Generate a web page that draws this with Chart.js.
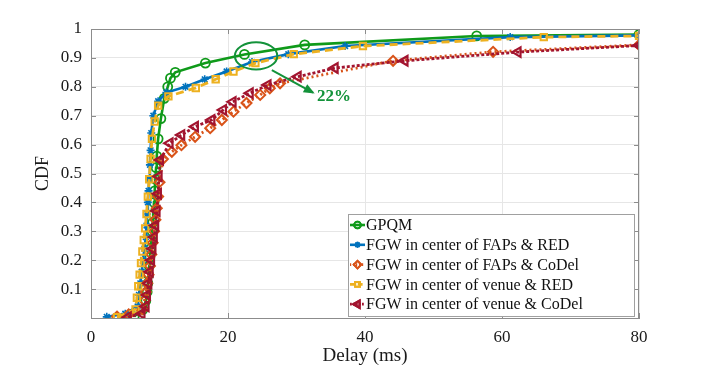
<!DOCTYPE html>
<html><head><meta charset="utf-8">
<script src="https://cdn.jsdelivr.net/npm/chart.js@4/dist/chart.umd.min.js"></script>
<style>html,body{margin:0;padding:0;background:#fff}</style>
</head><body>
<canvas id="c" width="706" height="370"></canvas>
<script>
// ---- data ----
const seriesNames = [
  'GPQM',
  'FGW in center of FAPs & RED',
  'FGW in center of FAPs & CoDel',
  'FGW in center of venue & RED',
  'FGW in center of venue & CoDel'
];
const xTicks = [0, 20, 40, 60, 80];
const yTicks = [0.1, 0.2, 0.3, 0.4, 0.5, 0.6, 0.7, 0.8, 0.9, 1];

const gpqmX = [6.3, 7.6, 8.0, 8.2, 8.3, 8.4, 8.5, 8.6, 8.7, 8.8, 8.9, 9.0, 9.1, 9.2, 9.3, 9.4, 9.5, 9.6, 9.8, 10.2, 10.7, 11.2, 11.6, 12.3, 16.7, 22.4, 31.2, 56.3, 80];
const gpqmY = [0.005, 0.03, 0.06, 0.09, 0.12, 0.15, 0.18, 0.21, 0.24, 0.27, 0.30, 0.33, 0.36, 0.40, 0.44, 0.48, 0.52, 0.56, 0.62, 0.69, 0.76, 0.80, 0.83, 0.85, 0.882, 0.912, 0.945, 0.976, 0.981];

const fapsRedX = [2.3, 5.0, 6.8, 7.0, 7.2, 7.4, 7.6, 7.8, 8.0, 8.1, 8.2, 8.3, 8.4, 8.5, 8.6, 8.7, 8.8, 9.1, 9.8, 11.0, 13.8, 16.6, 19.8, 23.5, 28.8, 37.1, 61.2, 80];
const fapsRedY = [0.004, 0.015, 0.04, 0.08, 0.12, 0.16, 0.20, 0.24, 0.28, 0.32, 0.36, 0.40, 0.44, 0.48, 0.53, 0.58, 0.64, 0.70, 0.75, 0.78, 0.80, 0.826, 0.853, 0.886, 0.913, 0.941, 0.972, 0.978];

const fapsCodelX = [3.8, 5.5, 7.5, 7.8, 8.0, 8.2, 8.4, 8.6, 8.8, 9.0, 9.2, 9.4, 9.6, 9.8, 10.0, 10.5, 11.8, 13.2, 15.2, 17.4, 19.1, 20.8, 22.7, 24.7, 26.1, 27.6, 44.1, 58.7, 80];
const fapsCodelY = [0.005, 0.012, 0.03, 0.06, 0.09, 0.12, 0.15, 0.18, 0.22, 0.26, 0.30, 0.34, 0.38, 0.42, 0.47, 0.55, 0.575, 0.598, 0.627, 0.657, 0.685, 0.714, 0.744, 0.772, 0.795, 0.812, 0.89, 0.921, 0.945];

const venueRedX = [3.8, 6.5, 6.7, 6.9, 7.1, 7.3, 7.5, 7.7, 7.9, 8.1, 8.3, 8.5, 8.7, 8.9, 9.3, 9.8, 11.3, 15.3, 18.2, 20.8, 24.0, 29.6, 39.7, 66.1, 80];
const venueRedY = [0.003, 0.03, 0.07, 0.11, 0.15, 0.19, 0.23, 0.27, 0.31, 0.36, 0.42, 0.48, 0.55, 0.62, 0.68, 0.735, 0.767, 0.796, 0.826, 0.853, 0.882, 0.913, 0.941, 0.972, 0.976];

const venueCodelX = [5.4, 7.4, 8.0, 8.2, 8.4, 8.6, 8.8, 9.0, 9.2, 9.4, 9.6, 9.8, 9.9, 10.1, 11.5, 13.2, 15.2, 17.6, 19.3, 20.7, 23.2, 25.8, 30.2, 35.6, 45.8, 62.3, 80];
const venueCodelY = [0.003, 0.015, 0.04, 0.08, 0.12, 0.16, 0.20, 0.24, 0.28, 0.32, 0.37, 0.43, 0.49, 0.547, 0.605, 0.633, 0.662, 0.685, 0.72, 0.748, 0.778, 0.806, 0.835, 0.865, 0.89, 0.92, 0.943];

// annotation (data units): ellipse around x≈24, y≈0.907 and arrow to "22%"
const noteText = '22%';
const ellipseCenter = [24.1, 0.907];
const ellipseRadius = [3.1, 0.047];
const arrowFrom = [26.4, 0.858];
const arrowTo = [32.4, 0.78];
const notePos = [33.0, 0.765];

// ---- styles ----
const FONT = '"Liberation Serif", "DejaVu Serif", serif';
const colors = ['#0f9a1a', '#0072BD', '#D95319', '#EDB120', '#A2142F'];
const styles = [
  {pointStyle: 'circle', radius: 4.5, dash: [], bw: 1.8, lw: 2.6},
  {pointStyle: 'star', radius: 4, dash: [], bw: 1.6, lw: 2.6},
  {pointStyle: 'rectRot', radius: 5, dash: [2, 3], bw: 2, lw: 2.8},
  {pointStyle: 'rect', radius: 4.5, dash: [8, 5], bw: 2, lw: 2.8},
  {pointStyle: 'triangle', radius: 5.5, dash: [3, 2], bw: 2.2, lw: 2.8, rot: -90}
];
const xsAll = [gpqmX, fapsRedX, fapsCodelX, venueRedX, venueCodelX];
const ysAll = [gpqmY, fapsRedY, fapsCodelY, venueRedY, venueCodelY];

const datasets = seriesNames.map((name, i) => ({
  label: name,
  data: xsAll[i].map((x, k) => ({x: x, y: ysAll[i][k]})),
  borderColor: colors[i],
  backgroundColor: 'rgba(0,0,0,0)',
  pointBackgroundColor: 'rgba(0,0,0,0)',
  pointBorderColor: colors[i],
  pointStyle: styles[i].pointStyle,
  pointRadius: styles[i].radius,
  pointBorderWidth: styles[i].bw,
  pointRotation: styles[i].rot || 0,
  borderWidth: styles[i].lw,
  borderDash: styles[i].dash,
  tension: 0,
  order: 4 - i
}));

function drawMarker(ctx, style, x, y, color) {
  ctx.save();
  ctx.strokeStyle = color; ctx.fillStyle = 'rgba(0,0,0,0)';
  ctx.lineWidth = style.bw;
  Chart.helpers.drawPoint(ctx, {pointStyle: style.pointStyle, rotation: style.rot || 0, radius: style.radius, borderWidth: style.bw}, x, y);
  ctx.stroke();
  ctx.restore();
}

const extras = {
  id: 'extras',
  afterDraw(chart) {
    const ctx = chart.ctx;
    const xs = chart.scales.x, ys = chart.scales.y;
    const a = chart.chartArea;
    ctx.save();
    // top & right box lines + inward ticks
    ctx.strokeStyle = '#8c8c8c'; ctx.lineWidth = 1;
    ctx.beginPath();
    ctx.moveTo(a.left, a.top + 0.5); ctx.lineTo(a.right, a.top + 0.5);
    ctx.moveTo(a.right - 0.5, a.top); ctx.lineTo(a.right - 0.5, a.bottom);
    xTicks.forEach(v => {
      const px = Math.round(xs.getPixelForValue(v)) + 0.5;
      ctx.moveTo(px, a.bottom); ctx.lineTo(px, a.bottom - 5);
      ctx.moveTo(px, a.top); ctx.lineTo(px, a.top + 5);
    });
    yTicks.forEach(v => {
      const py = Math.round(ys.getPixelForValue(v)) + 0.5;
      ctx.moveTo(a.left, py); ctx.lineTo(a.left + 5, py);
      ctx.moveTo(a.right, py); ctx.lineTo(a.right - 5, py);
    });
    ctx.stroke();

    // annotation
    const g = '#13923a';
    const cx = xs.getPixelForValue(ellipseCenter[0]), cy = ys.getPixelForValue(ellipseCenter[1]);
    const rx = xs.getPixelForValue(ellipseCenter[0] + ellipseRadius[0]) - cx;
    const ry = cy - ys.getPixelForValue(ellipseCenter[1] + ellipseRadius[1]);
    ctx.strokeStyle = g; ctx.lineWidth = 2;
    ctx.beginPath(); ctx.ellipse(cx, cy, rx, ry, 0, 0, Math.PI * 2); ctx.stroke();
    const ax = xs.getPixelForValue(arrowFrom[0]), ay = ys.getPixelForValue(arrowFrom[1]);
    const bx = xs.getPixelForValue(arrowTo[0]), by = ys.getPixelForValue(arrowTo[1]);
    ctx.beginPath(); ctx.moveTo(ax, ay); ctx.lineTo(bx, by); ctx.stroke();
    const ang = Math.atan2(by - ay, bx - ax);
    ctx.fillStyle = g;
    ctx.beginPath();
    ctx.moveTo(bx + 2 * Math.cos(ang), by + 2 * Math.sin(ang));
    ctx.lineTo(bx - 9 * Math.cos(ang) + 4.5 * Math.sin(ang), by - 9 * Math.sin(ang) - 4.5 * Math.cos(ang));
    ctx.lineTo(bx - 9 * Math.cos(ang) - 4.5 * Math.sin(ang), by - 9 * Math.sin(ang) + 4.5 * Math.cos(ang));
    ctx.closePath(); ctx.fill();
    ctx.font = 'bold 17px ' + FONT;
    ctx.textAlign = 'left'; ctx.textBaseline = 'middle';
    ctx.fillText(noteText, xs.getPixelForValue(notePos[0]), ys.getPixelForValue(notePos[1]));

    // legend box
    const lx = 348, ly = 214, lw = 286, lh = 102;
    ctx.fillStyle = '#fff';
    ctx.fillRect(lx, ly, lw, lh);
    ctx.strokeStyle = '#a0a0a0'; ctx.lineWidth = 1;
    ctx.strokeRect(lx + 0.5, ly + 0.5, lw, lh);
    ctx.font = '16px ' + FONT;
    ctx.textBaseline = 'middle'; ctx.textAlign = 'left';
    seriesNames.forEach((n, i) => {
      const y = 225 + i * 19.8;
      ctx.save();
      ctx.strokeStyle = colors[i]; ctx.lineWidth = styles[i].lw;
      ctx.setLineDash(styles[i].dash.map(d => d * 0.6));
      ctx.beginPath(); ctx.moveTo(350, y); ctx.lineTo(365, y); ctx.stroke();
      ctx.restore();
      drawMarker(ctx, {pointStyle: styles[i].pointStyle, radius: styles[i].radius * 0.75, bw: styles[i].bw, rot: styles[i].rot}, 357.5, y, colors[i]);
      ctx.fillStyle = '#111';
      ctx.fillText(n, 366, y + 1);
    });
    ctx.restore();
  }
};

new Chart(document.getElementById('c'), {
  type: 'line',
  data: {datasets: datasets},
  options: {
    responsive: false,
    animation: false,
    layout: {padding: {top: 29, right: 67, left: 0, bottom: 0}},
    plugins: {legend: {display: false}, tooltip: {enabled: false}},
    scales: {
      x: {
        type: 'linear', min: 0, max: 80,
        afterFit: s => { s.height = 52; },
        afterBuildTicks: s => { s.ticks = xTicks.map(v => ({value: v})); },
        ticks: {font: {family: FONT, size: 17}, color: '#1a1a1a', padding: 9, maxRotation: 0,
                callback: v => String(v)},
        grid: {color: '#e6e6e6', drawTicks: false},
        border: {color: '#8c8c8c'},
        title: {display: true, text: 'Delay (ms)', font: {family: FONT, size: 19}, color: '#1a1a1a', padding: {top: 0, bottom: 3}}
      },
      y: {
        type: 'linear', min: 0, max: 1,
        afterFit: s => { s.width = 91; },
        afterBuildTicks: s => { s.ticks = [0].concat(yTicks).map(v => ({value: v})); },
        ticks: {font: {family: FONT, size: 17}, color: '#1a1a1a', padding: 9,
                callback: v => v === 0 ? '' : String(Math.round(v * 10) / 10)},
        grid: {color: '#e6e6e6', drawTicks: false},
        border: {color: '#8c8c8c'},
        title: {display: true, text: 'CDF', font: {family: FONT, size: 18}, color: '#1a1a1a', padding: {top: 32, bottom: 0}}
      }
    }
  },
  plugins: [extras]
});
</script>
</body></html>
